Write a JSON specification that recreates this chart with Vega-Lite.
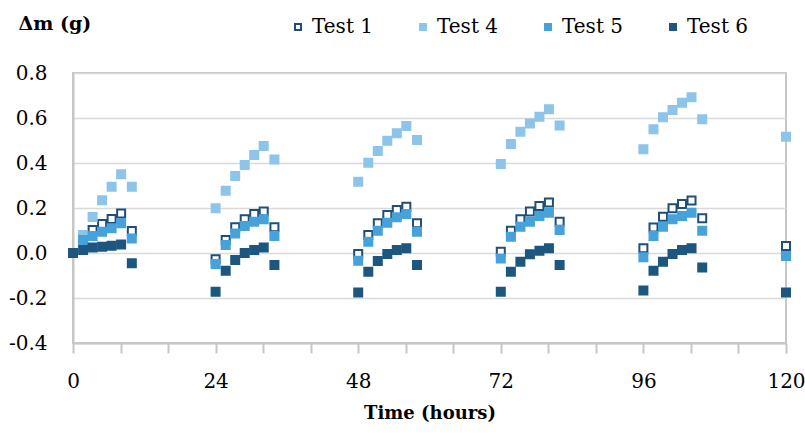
{
  "$schema": "https://vega.github.io/schema/vega-lite/v6.json",
  "width": 713,
  "height": 270,
  "autosize": "none",
  "padding": {"left": 73, "top": 73, "right": 19, "bottom": 91},
  "background": "white",
  "config": {"font": "DejaVu Serif", "view": {"stroke": "#c6c6c6", "strokeWidth": 2}},
  "data": {"values": [
    {"t": 0, "Test 1": 0, "Test 4": 0, "Test 5": 0, "Test 6": 0},
    {"t": 1.7, "Test 1": 0.065, "Test 4": 0.08, "Test 5": 0.058, "Test 6": 0.013},
    {"t": 3.3, "Test 1": 0.102, "Test 4": 0.16, "Test 5": 0.076, "Test 6": 0.024},
    {"t": 4.9, "Test 1": 0.129, "Test 4": 0.235, "Test 5": 0.095, "Test 6": 0.028},
    {"t": 6.5, "Test 1": 0.151, "Test 4": 0.295, "Test 5": 0.11, "Test 6": 0.032},
    {"t": 8.1, "Test 1": 0.176, "Test 4": 0.35, "Test 5": 0.132, "Test 6": 0.038},
    {"t": 9.9, "Test 1": 0.098, "Test 4": 0.295, "Test 5": 0.065, "Test 6": -0.046},
    {"t": 24, "Test 1": -0.028, "Test 4": 0.199, "Test 5": -0.049, "Test 6": -0.172},
    {"t": 25.7, "Test 1": 0.058, "Test 4": 0.277, "Test 5": 0.036, "Test 6": -0.079},
    {"t": 27.3, "Test 1": 0.114, "Test 4": 0.342, "Test 5": 0.087, "Test 6": -0.031},
    {"t": 28.9, "Test 1": 0.15, "Test 4": 0.391, "Test 5": 0.12, "Test 6": 0.0},
    {"t": 30.5, "Test 1": 0.173, "Test 4": 0.436, "Test 5": 0.139, "Test 6": 0.013},
    {"t": 32.1, "Test 1": 0.184, "Test 4": 0.476, "Test 5": 0.15, "Test 6": 0.025},
    {"t": 33.9, "Test 1": 0.114, "Test 4": 0.416, "Test 5": 0.076, "Test 6": -0.053},
    {"t": 48, "Test 1": -0.004, "Test 4": 0.317, "Test 5": -0.034, "Test 6": -0.175},
    {"t": 49.7, "Test 1": 0.08, "Test 4": 0.401, "Test 5": 0.05, "Test 6": -0.083},
    {"t": 51.3, "Test 1": 0.132, "Test 4": 0.453, "Test 5": 0.099, "Test 6": -0.036},
    {"t": 52.9, "Test 1": 0.169, "Test 4": 0.499, "Test 5": 0.135, "Test 6": -0.004},
    {"t": 54.5, "Test 1": 0.191, "Test 4": 0.532, "Test 5": 0.159, "Test 6": 0.013},
    {"t": 56.1, "Test 1": 0.206, "Test 4": 0.564, "Test 5": 0.173, "Test 6": 0.021},
    {"t": 57.9, "Test 1": 0.132, "Test 4": 0.502, "Test 5": 0.095, "Test 6": -0.053},
    {"t": 72, "Test 1": 0.006, "Test 4": 0.396, "Test 5": -0.024, "Test 6": -0.172},
    {"t": 73.7, "Test 1": 0.099, "Test 4": 0.484, "Test 5": 0.072, "Test 6": -0.083},
    {"t": 75.3, "Test 1": 0.15, "Test 4": 0.539, "Test 5": 0.117, "Test 6": -0.039},
    {"t": 76.9, "Test 1": 0.184, "Test 4": 0.576, "Test 5": 0.139, "Test 6": -0.006},
    {"t": 78.5, "Test 1": 0.209, "Test 4": 0.606, "Test 5": 0.164, "Test 6": 0.01},
    {"t": 80.1, "Test 1": 0.224, "Test 4": 0.639, "Test 5": 0.179, "Test 6": 0.021},
    {"t": 81.9, "Test 1": 0.139, "Test 4": 0.567, "Test 5": 0.102, "Test 6": -0.053},
    {"t": 96, "Test 1": 0.021, "Test 4": 0.461, "Test 5": -0.019, "Test 6": -0.167},
    {"t": 97.7, "Test 1": 0.113, "Test 4": 0.55, "Test 5": 0.076, "Test 6": -0.079},
    {"t": 99.3, "Test 1": 0.161, "Test 4": 0.603, "Test 5": 0.117, "Test 6": -0.039},
    {"t": 100.9, "Test 1": 0.199, "Test 4": 0.636, "Test 5": 0.15, "Test 6": -0.004},
    {"t": 102.5, "Test 1": 0.218, "Test 4": 0.668, "Test 5": 0.164, "Test 6": 0.013},
    {"t": 104.1, "Test 1": 0.233, "Test 4": 0.692, "Test 5": 0.179, "Test 6": 0.021},
    {"t": 105.9, "Test 1": 0.154, "Test 4": 0.594, "Test 5": 0.099, "Test 6": -0.064},
    {"t": 120, "Test 1": 0.031, "Test 4": 0.517, "Test 5": -0.013, "Test 6": -0.176}
  ]},
  "transform": [{"fold": ["Test 1", "Test 4", "Test 5", "Test 6"], "as": ["series", "dm"]}],
  "mark": {"type": "point", "shape": "square", "size": 64, "strokeWidth": 2, "opacity": 1, "clip": false},
  "encoding": {
    "x": {
      "field": "t", "type": "quantitative",
      "scale": {"domain": [0, 120], "nice": false, "zero": false},
      "axis": {
        "values": [0, 8, 16, 24, 32, 40, 48, 56, 64, 72, 80, 88, 96, 104, 112, 120],
        "labelExpr": "datum.value % 24 === 0 ? datum.label : ''",
        "labelFlush": false, "labelOverlap": false, "grid": false,
        "tickSize": 10, "tickColor": "#c6c6c6", "tickWidth": 2,
        "labelPadding": 18, "labelFontSize": 20, "labelColor": "#000000",
        "domainColor": "#c6c6c6", "domainWidth": 2,
        "title": "Time (hours)", "titleFontSize": 18, "titleFontWeight": "bold", "titleColor": "#000000",
        "titleY": 75, "titleBaseline": "alphabetic",
        "encode": {"ticks": {"update": {
          "y": {"signal": "datum.value % 24 === 0 ? -6 : -5"},
          "y2": {"signal": "datum.value % 24 === 0 ? 10 : 0"}
        }}}
      }
    },
    "y": {
      "field": "dm", "type": "quantitative",
      "scale": {"domain": [-0.4, 0.8], "nice": false, "zero": false},
      "axis": {
        "values": [-0.4, -0.2, 0, 0.2, 0.4, 0.6, 0.8],
        "labelExpr": "(datum.value < -0.0001 ? '-' : '') + format(abs(datum.value), '.1f')",
        "ticks": false, "labelPadding": 26, "labelFontSize": 20, "labelColor": "#000000",
        "labelFlush": false, "labelOverlap": false,
        "domainColor": "#c6c6c6", "domainWidth": 2,
        "gridColor": "#d9d9d9", "gridWidth": 1.5,
        "title": "Δm (g)", "titleAngle": 0, "titleAlign": "left", "titleBaseline": "alphabetic",
        "titleX": -55, "titleY": -44, "titleFontSize": 19, "titleFontWeight": "bold",
        "titleColor": "#000000"
      }
    },
    "fill": {
      "field": "series", "type": "nominal",
      "scale": {"domain": ["Test 1", "Test 4", "Test 5", "Test 6"], "range": ["#ffffff", "#8cc5e9", "#46a2da", "#1d5780"]},
      "legend": {"title": null, "orient": "none", "direction": "horizontal", "legendX": 215, "legendY": -56,
        "symbolType": "square", "symbolSize": 36, "symbolStrokeWidth": 2, "symbolOpacity": 1,
        "labelFontSize": 20, "labelColor": "#000000",
        "labelOffset": 4, "columnPadding": 39, "padding": 0}
    },
    "stroke": {
      "field": "series", "type": "nominal",
      "scale": {"domain": ["Test 1", "Test 4", "Test 5", "Test 6"], "range": ["#1f4e79", "#8cc5e9", "#46a2da", "#1d5780"]},
      "legend": {"title": null, "orient": "none", "direction": "horizontal", "legendX": 215, "legendY": -56,
        "symbolType": "square", "symbolSize": 36, "symbolStrokeWidth": 2, "symbolOpacity": 1,
        "labelFontSize": 20, "labelColor": "#000000",
        "labelOffset": 4, "columnPadding": 39, "padding": 0}
    },
    "order": {"field": "series", "type": "ordinal", "sort": "ascending"}
  }
}
